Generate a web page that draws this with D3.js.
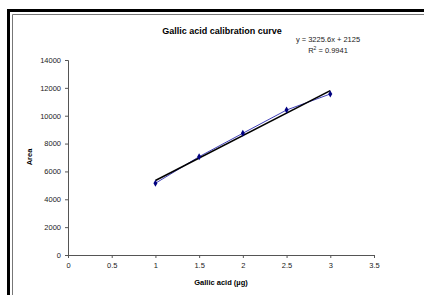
<!DOCTYPE html>
<html><head><meta charset="utf-8">
<script src="https://cdn.jsdelivr.net/npm/d3@7"></script>
<style>body{margin:0;background:#fff;overflow:hidden}svg{display:block}</style>
</head><body>
<script>
const xValues = [1, 1.5, 2, 2.5, 3];
const areaValues = [5150, 7060, 8740, 10410, 11560];
const trendSlope = [3225.6];
const trendIntercept = [2125];
const xTicks = [0, 0.5, 1, 1.5, 2, 2.5, 3, 3.5];
const yTicks = [0, 2000, 4000, 6000, 8000, 10000, 12000, 14000];

const W = 424, H = 295;
const svg = d3.select("body").append("svg").attr("width", W).attr("height", H);
svg.append("rect").attr("width", W).attr("height", H).attr("fill", "#fff");

// cropped document caption above
svg.append("text").attr("x", 416).attr("y", -4).attr("text-anchor", "end")
  .attr("font-family", "Liberation Serif, Times New Roman, serif").attr("font-size", 35)
  .attr("fill", "#000").text("Calibration Curve of Gallic acid");

// frame
svg.append("path").attr("d", `M8.5,${H+5}V10.5H${W+5}`).attr("fill", "none").attr("stroke", "#000").attr("stroke-width", 3);
svg.append("path").attr("d", `M12.5,${H+5}V14.5H${W+5}`).attr("fill", "none").attr("stroke", "#777").attr("stroke-width", 1);

const x = d3.scaleLinear().domain([0, 3.5]).range([68, 374]);
const y = d3.scaleLinear().domain([0, 14000]).range([255, 60]);

const font = "Liberation Sans, Arial, sans-serif";

const gx = svg.append("g").attr("transform", "translate(0,255)")
  .call(d3.axisBottom(x).tickValues(xTicks).tickSize(3).tickPadding(5).tickFormat(d => String(d)));
const gy = svg.append("g").attr("transform", "translate(68,0)")
  .call(d3.axisLeft(y).tickValues(yTicks).tickSize(3).tickPadding(4).tickFormat(d => String(d)));
[gx, gy].forEach(g => {
  g.select(".domain").attr("stroke", "#555").attr("stroke-width", 1);
  g.selectAll(".tick line").attr("stroke", "#555");
  g.selectAll("text").attr("font-family", font).attr("font-size", 7.5).attr("fill", "#222");
});

// data line
const line = d3.line().x((d, i) => x(xValues[i])).y(d => y(d));
svg.append("path").datum(areaValues).attr("d", line).attr("fill", "none")
  .attr("stroke", "#2a2ab0").attr("stroke-width", 0.9);

// trendline
const tx = [xValues[0], xValues[xValues.length - 1]];
svg.append("line")
  .attr("x1", x(tx[0])).attr("y1", y(trendSlope[0] * tx[0] + trendIntercept[0]))
  .attr("x2", x(tx[1])).attr("y2", y(trendSlope[0] * tx[1] + trendIntercept[0]))
  .attr("stroke", "#000").attr("stroke-width", 1.6);

svg.append("g").selectAll("path").data(areaValues).join("path")
  .attr("d", d3.symbol(d3.symbolDiamond, 14))
  .attr("transform", (d, i) => `translate(${x(xValues[i])},${y(d)})`)
  .attr("fill", "#000080");

// titles
svg.append("text").attr("x", 222).attr("y", 34).attr("text-anchor", "middle")
  .attr("font-family", font).attr("font-weight", "bold").attr("font-size", 9).text("Gallic acid calibration curve");
svg.append("text").attr("x", 328).attr("y", 42).attr("text-anchor", "middle")
  .attr("font-family", font).attr("font-size", 7.5).attr("fill", "#222").text("y = 3225.6x + 2125");
const r2 = svg.append("text").attr("x", 328).attr("y", 53).attr("text-anchor", "middle")
  .attr("font-family", font).attr("font-size", 7.5).attr("fill", "#222");
r2.append("tspan").text("R");
r2.append("tspan").attr("dy", -3).attr("font-size", 5).text("2");
r2.append("tspan").attr("dy", 3).text(" = 0.9941");

svg.append("text").attr("x", 221).attr("y", 285).attr("text-anchor", "middle")
  .attr("font-family", font).attr("font-weight", "bold").attr("font-size", 7.5).text("Gallic acid (µg)");
svg.append("text").attr("transform", "translate(32,157) rotate(-90)").attr("text-anchor", "middle")
  .attr("font-family", font).attr("font-weight", "bold").attr("font-size", 7.5).text("Area");
</script>
</body></html>
